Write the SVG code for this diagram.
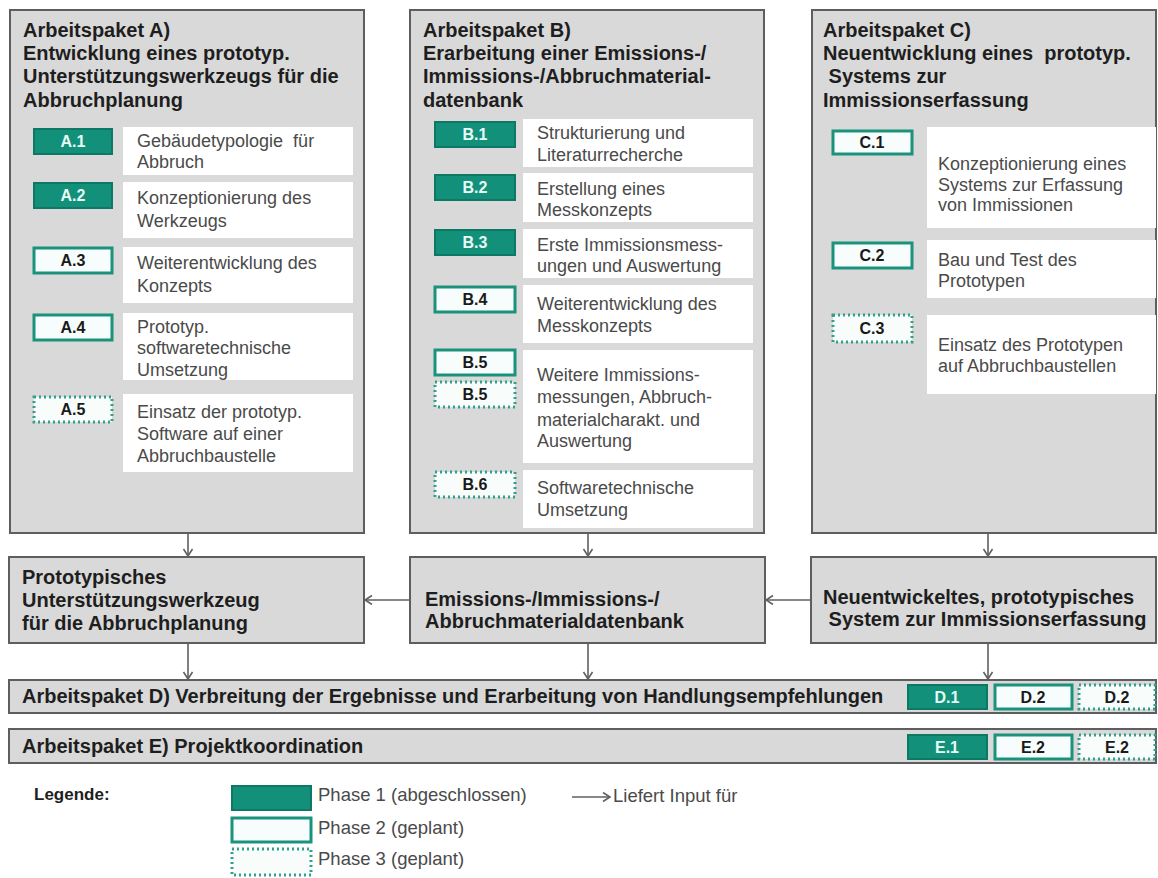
<svg xmlns="http://www.w3.org/2000/svg" width="1158" height="878" viewBox="0 0 1158 878">
  <defs>
    <style>
      .bg { fill: #ffffff; }
      .panel { fill: #d9d9d9; stroke: #5e5e5e; stroke-width: 2; }
      .item { fill: #ffffff; }
      .h { font-family: "Liberation Sans", Arial, sans-serif; font-weight: bold; font-size: 20px; fill: #1e1e1e; white-space: pre; }
      .t { font-family: "Liberation Sans", Arial, sans-serif; font-size: 18px; fill: #4a4a4a; white-space: pre; }
      .p1 { fill: #13907a; stroke: #0d7864; stroke-width: 2; }
      .p2 { fill: #f6fdfc; stroke: #1b937c; stroke-width: 3; }
      .p3 { fill: #f8fdfc; stroke: #33a08a; stroke-width: 3; stroke-dasharray: 2 3; }
      .bl { font-family: "Liberation Sans", Arial, sans-serif; font-weight: bold; font-size: 16px; text-anchor: middle; fill: #1a1a1a; }
      .bl1 { fill: #e6fbf5; }
      .conn { stroke: #606060; stroke-width: 1.6; fill: none; marker-end: url(#arr); }
    </style>
    <marker id="arr" markerUnits="userSpaceOnUse" markerWidth="10" markerHeight="12" refX="8" refY="5" orient="auto">
      <path d="M1,0.5 L8,5 L1,9.5" fill="none" stroke="#606060" stroke-width="1.6"/>
    </marker>
  </defs>

  <rect class="bg" x="0" y="0" width="1158" height="878"/>

  <!-- Work package A -->
  <g id="wpA">
    <rect class="panel" x="10" y="10" width="354" height="523"/>
    <text class="h" x="23" y="37">Arbeitspaket A)</text>
    <text class="h" x="23" y="60">Entwicklung eines prototyp.</text>
    <text class="h" x="23" y="83">Unterstützungswerkzeugs für die</text>
    <text class="h" x="23" y="107">Abbruchplanung</text>
  </g>
  <g id="A1">
    <rect class="p1" x="34" y="129" width="78" height="25"/>
    <text class="bl bl1" x="73" y="147">A.1</text>
    <rect class="item" x="123" y="127" width="230" height="48"/>
    <text class="t" x="137" y="147">Gebäudetypologie  für</text>
    <text class="t" x="137" y="168">Abbruch</text>
  </g>
  <g id="A2">
    <rect class="p1" x="34" y="183" width="78" height="25"/>
    <text class="bl bl1" x="73" y="201">A.2</text>
    <rect class="item" x="123" y="182" width="230" height="56"/>
    <text class="t" x="137" y="204">Konzeptionierung des</text>
    <text class="t" x="137" y="227">Werkzeugs</text>
  </g>
  <g id="A3">
    <rect class="p2" x="34" y="248" width="78" height="25"/>
    <text class="bl" x="73" y="266">A.3</text>
    <rect class="item" x="123" y="247" width="230" height="56"/>
    <text class="t" x="137" y="269">Weiterentwicklung des</text>
    <text class="t" x="137" y="292">Konzepts</text>
  </g>
  <g id="A4">
    <rect class="p2" x="34" y="315" width="78" height="25"/>
    <text class="bl" x="73" y="333">A.4</text>
    <rect class="item" x="123" y="313" width="230" height="67"/>
    <text class="t" x="137" y="333">Prototyp.</text>
    <text class="t" x="137" y="354">softwaretechnische</text>
    <text class="t" x="137" y="376">Umsetzung</text>
  </g>
  <g id="A5">
    <rect class="p3" x="34" y="397" width="78" height="25"/>
    <text class="bl" x="73" y="415">A.5</text>
    <rect class="item" x="123" y="394" width="230" height="78"/>
    <text class="t" x="137" y="418">Einsatz der prototyp.</text>
    <text class="t" x="137" y="440">Software auf einer</text>
    <text class="t" x="137" y="462">Abbruchbaustelle</text>
  </g>

  <!-- Work package B -->
  <g id="wpB">
    <rect class="panel" x="410" y="10" width="354" height="523"/>
    <text class="h" x="423" y="37">Arbeitspaket B)</text>
    <text class="h" x="423" y="60">Erarbeitung einer Emissions-/</text>
    <text class="h" x="423" y="83">Immissions-/Abbruchmaterial-</text>
    <text class="h" x="423" y="107">datenbank</text>
  </g>
  <g id="B1">
    <rect class="p1" x="435" y="122" width="80" height="25"/>
    <text class="bl bl1" x="475" y="140">B.1</text>
    <rect class="item" x="523" y="119" width="230" height="48"/>
    <text class="t" x="537" y="139">Strukturierung und</text>
    <text class="t" x="537" y="161">Literaturrecherche</text>
  </g>
  <g id="B2">
    <rect class="p1" x="435" y="175" width="80" height="25"/>
    <text class="bl bl1" x="475" y="193">B.2</text>
    <rect class="item" x="523" y="173" width="230" height="49"/>
    <text class="t" x="537" y="195">Erstellung eines</text>
    <text class="t" x="537" y="216">Messkonzepts</text>
  </g>
  <g id="B3">
    <rect class="p1" x="435" y="230" width="80" height="25"/>
    <text class="bl bl1" x="475" y="248">B.3</text>
    <rect class="item" x="523" y="229" width="230" height="49"/>
    <text class="t" x="537" y="251">Erste Immissionsmess-</text>
    <text class="t" x="537" y="272">ungen und Auswertung</text>
  </g>
  <g id="B4">
    <rect class="p2" x="435" y="287" width="80" height="25"/>
    <text class="bl" x="475" y="305">B.4</text>
    <rect class="item" x="523" y="285" width="230" height="58"/>
    <text class="t" x="537" y="310">Weiterentwicklung des</text>
    <text class="t" x="537" y="332">Messkonzepts</text>
  </g>
  <g id="B5">
    <rect class="p2" x="435" y="350" width="80" height="25"/>
    <text class="bl" x="475" y="368">B.5</text>
    <rect class="p3" x="435" y="382" width="80" height="25"/>
    <text class="bl" x="475" y="400">B.5</text>
    <rect class="item" x="523" y="350" width="230" height="113"/>
    <text class="t" x="537" y="381">Weitere Immissions-</text>
    <text class="t" x="537" y="403">messungen, Abbruch-</text>
    <text class="t" x="537" y="426">materialcharakt. und</text>
    <text class="t" x="537" y="447">Auswertung</text>
  </g>
  <g id="B6">
    <rect class="p3" x="435" y="472" width="80" height="25"/>
    <text class="bl" x="475" y="490">B.6</text>
    <rect class="item" x="523" y="470" width="230" height="58"/>
    <text class="t" x="537" y="494">Softwaretechnische</text>
    <text class="t" x="537" y="516">Umsetzung</text>
  </g>

  <!-- Work package C -->
  <g id="wpC">
    <rect class="panel" x="812" y="10" width="344" height="523"/>
    <text class="h" x="823" y="37">Arbeitspaket C)</text>
    <text class="h" x="823" y="60">Neuentwicklung eines  prototyp.</text>
    <text class="h" x="823" y="83"> Systems zur</text>
    <text class="h" x="823" y="107">Immissionserfassung</text>
  </g>
  <g id="C1">
    <rect class="p2" x="833" y="131" width="79" height="23"/>
    <text class="bl" x="872" y="148">C.1</text>
    <rect class="item" x="927" y="127" width="229" height="101"/>
    <text class="t" x="938" y="170">Konzeptionierung eines</text>
    <text class="t" x="938" y="191">Systems zur Erfassung</text>
    <text class="t" x="938" y="211">von Immissionen</text>
  </g>
  <g id="C2">
    <rect class="p2" x="833" y="243" width="79" height="25"/>
    <text class="bl" x="872" y="261">C.2</text>
    <rect class="item" x="927" y="240" width="229" height="58"/>
    <text class="t" x="938" y="266">Bau und Test des</text>
    <text class="t" x="938" y="287">Prototypen</text>
  </g>
  <g id="C3">
    <rect class="p3" x="833" y="315" width="79" height="27"/>
    <text class="bl" x="872" y="334">C.3</text>
    <rect class="item" x="927" y="315" width="229" height="79"/>
    <text class="t" x="938" y="351">Einsatz des Prototypen</text>
    <text class="t" x="938" y="372">auf Abbruchbaustellen</text>
  </g>

  <!-- Results -->
  <g id="resA">
    <rect class="panel" x="9" y="557" width="355" height="86"/>
    <text class="h" x="22" y="584">Prototypisches</text>
    <text class="h" x="22" y="607">Unterstützungswerkzeug</text>
    <text class="h" x="22" y="630">für die Abbruchplanung</text>
  </g>
  <g id="resB">
    <rect class="panel" x="410" y="557" width="355" height="86"/>
    <text class="h" x="425" y="606">Emissions-/Immissions-/</text>
    <text class="h" x="425" y="628">Abbruchmaterialdatenbank</text>
  </g>
  <g id="resC">
    <rect class="panel" x="811" y="557" width="345" height="86"/>
    <text class="h" x="823" y="604">Neuentwickeltes, prototypisches</text>
    <text class="h" x="823" y="626"> System zur Immissionserfassung</text>
  </g>

  <!-- Work package D -->
  <g id="wpD">
    <rect class="panel" x="9" y="680" width="1147" height="33"/>
    <text class="h" x="22" y="703">Arbeitspaket D) Verbreitung der Ergebnisse und Erarbeitung von Handlungsempfehlungen</text>
    <rect class="p1" x="908" y="685" width="79" height="24"/>
    <text class="bl bl1" x="947" y="703">D.1</text>
    <rect class="p2" x="995" y="685" width="77" height="24"/>
    <text class="bl" x="1033" y="703">D.2</text>
    <rect class="p3" x="1079" y="685" width="76" height="24"/>
    <text class="bl" x="1117" y="703">D.2</text>
  </g>

  <!-- Work package E -->
  <g id="wpE">
    <rect class="panel" x="9" y="729" width="1147" height="34"/>
    <text class="h" x="22" y="753">Arbeitspaket E) Projektkoordination</text>
    <rect class="p1" x="908" y="735" width="79" height="24"/>
    <text class="bl bl1" x="947" y="753">E.1</text>
    <rect class="p2" x="995" y="735" width="77" height="24"/>
    <text class="bl" x="1033" y="753">E.2</text>
    <rect class="p3" x="1079" y="735" width="76" height="24"/>
    <text class="bl" x="1117" y="753">E.2</text>
  </g>

  <!-- Connectors -->
  <g id="connectors">
    <line class="conn" x1="188" y1="534" x2="188" y2="556"/>
    <line class="conn" x1="588" y1="534" x2="588" y2="556"/>
    <line class="conn" x1="988" y1="534" x2="988" y2="556"/>
    <line class="conn" x1="410" y1="600" x2="365" y2="600"/>
    <line class="conn" x1="811" y1="600" x2="766" y2="600"/>
    <line class="conn" x1="188" y1="644" x2="188" y2="679"/>
    <line class="conn" x1="588" y1="644" x2="588" y2="679"/>
    <line class="conn" x1="988" y1="644" x2="988" y2="679"/>
  </g>

  <!-- Legend -->
  <g id="legend">
    <text class="h" x="34" y="800" style="font-size:17px">Legende:</text>
    <rect class="p1" x="232" y="786" width="79" height="24"/>
    <text class="t" x="318" y="801" style="font-size:18.5px">Phase 1 (abgeschlossen)</text>
    <rect class="p2" x="232" y="818" width="79" height="24"/>
    <text class="t" x="318" y="834" style="font-size:18.5px">Phase 2 (geplant)</text>
    <rect class="p3" x="232" y="849" width="79" height="26"/>
    <text class="t" x="318" y="865" style="font-size:18.5px">Phase 3 (geplant)</text>
    <line class="conn" x1="572" y1="797" x2="610" y2="797"/>
    <text class="t" x="613" y="802" style="font-size:18.5px">Liefert Input für</text>
  </g>
</svg>
